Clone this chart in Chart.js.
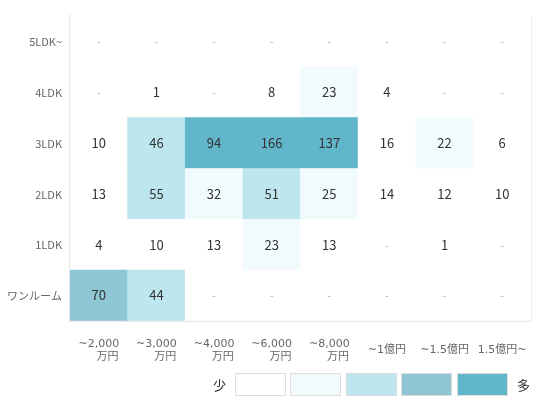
<!DOCTYPE html>
<html>
<head>
<meta charset="utf-8">
<script src="https://cdn.jsdelivr.net/npm/chart.js@4"></script>
<style>
  html, body { margin: 0; padding: 0; background: #fff; }
  #wrap { position: relative; width: 546px; height: 407px; }
  #legend { position: absolute; top: 373px; right: 16px; display: flex; align-items: center;
            font: 13px "Noto Sans CJK JP", "Noto Sans", sans-serif; color: #333; }
  #legend .box { width: 51px; height: 23px; box-sizing: border-box; border: 1px solid #ddd; margin-right: 4.5px; }
</style>
</head>
<body>
<div id="wrap">
  <canvas id="heatChart" width="546" height="407"></canvas>
  <div id="legend"></div>
</div>
<script>
// price bands (x) and floor plans (y, bottom to top)
const priceLabels = [
  ['~2,000', '     万円'],
  ['~3,000', '     万円'],
  ['~4,000', '     万円'],
  ['~6,000', '     万円'],
  ['~8,000', '     万円'],
  '~1億円',
  '~1.5億円',
  '1.5億円~'
];
const rowLabels = ['ワンルーム', '1LDK', '2LDK', '3LDK', '4LDK', '5LDK~'];

// counts per price band, null = "-"
const oneRoom = [70, 44, null, null, null, null, null, null];
const ldk1 = [4, 10, 13, 23, 13, null, 1, null];
const ldk2 = [13, 55, 32, 51, 25, 14, 12, 10];
const ldk3 = [10, 46, 94, 166, 137, 16, 22, 6];
const ldk4 = [null, 1, null, 8, 23, 4, null, null];
const ldk5 = [null, null, null, null, null, null, null, null];

const levelBreaks = [20, 40, 60, 80];
const levelColors = ['#ffffff', '#f1fbfd', '#bde6ef', '#8ec6d3', '#62b6c9'];

const FONT = '"Noto Sans CJK JP", "Noto Sans", sans-serif';
const XFONT = '"DejaVu Sans", "Noto Sans CJK JP", sans-serif';

function colorFor(v) {
  if (v == null) return levelColors[0];
  let lvl = 0;
  levelBreaks.forEach(b => { if (v >= b) lvl++; });
  return levelColors[lvl];
}

const rows = [oneRoom, ldk1, ldk2, ldk3, ldk4, ldk5];
const datasets = rows.map((vals, r) => ({
  label: rowLabels[r],
  data: vals.map(() => [r, r + 1]),
  values: vals,
  backgroundColor: vals.map(colorFor),
  borderWidth: 0,
  grouped: false,
  barPercentage: 1,
  categoryPercentage: 1
}));

// numbers in the cells
const cellText = {
  id: 'cellText',
  afterDatasetsDraw(chart) {
    const ctx = chart.ctx;
    ctx.save();
    ctx.textAlign = 'center';
    ctx.textBaseline = 'middle';
    chart.data.datasets.forEach((ds, i) => {
      chart.getDatasetMeta(i).data.forEach((bar, j) => {
        const v = ds.values[j];
        const y = (bar.y + bar.base) / 2;
        if (v == null) {
          ctx.font = '10px ' + FONT;
          ctx.fillStyle = '#aaa';
          ctx.fillText('-', bar.x, y);
        } else {
          ctx.font = '13px ' + FONT;
          ctx.fillStyle = '#333';
          ctx.fillText(String(v), bar.x, y);
        }
      });
    });
    ctx.restore();
  }
};

new Chart(document.getElementById('heatChart'), {
  type: 'bar',
  data: { labels: priceLabels, datasets: datasets },
  options: {
    responsive: false,
    animation: false,
    layout: { padding: { top: 16, right: 15, left: 0, bottom: 0 } },
    plugins: {
      legend: { display: false },
      tooltip: { enabled: false }
    },
    scales: {
      x: {
        type: 'category',
        offset: true,
        z: 1,
        grid: { offset: true, color: '#efefef', drawTicks: false },
        border: { color: '#e8e8e8', width: 2 },
        ticks: {
          font: { family: XFONT, size: 11, lineHeight: 1.15 },
          color: '#666',
          padding: 23,
          maxRotation: 0,
          autoSkip: false,
          crossAlign: 'center'
        },
        afterFit(scale) {
          scale.height = 86;
          scale.paddingLeft = 0;
          scale.paddingRight = 0;
        }
      },
      y: {
        type: 'linear',
        min: 0,
        max: 6,
        z: 1,
        grid: { color: '#efefef', drawTicks: false },
        border: { color: '#e8e8e8', width: 2 },
        ticks: {
          stepSize: 1,
          font: { family: FONT, size: 11 },
          color: '#666',
          padding: 8,
          labelOffset: -25,
          callback: v => rowLabels[v] ?? ''
        },
        afterFit(scale) { scale.width = 70; }
      }
    }
  },
  plugins: [cellText]
});

// colour scale legend
const legend = document.getElementById('legend');
const low = document.createElement('span');
low.textContent = '少';
low.style.marginRight = '9px';
legend.appendChild(low);
levelColors.forEach((c, i) => {
  const b = document.createElement('div');
  b.className = 'box';
  b.style.background = c;
  if (i === levelColors.length - 1) b.style.marginRight = '9px';
  legend.appendChild(b);
});
const high = document.createElement('span');
high.textContent = '多';
legend.appendChild(high);
</script>
</body>
</html>
